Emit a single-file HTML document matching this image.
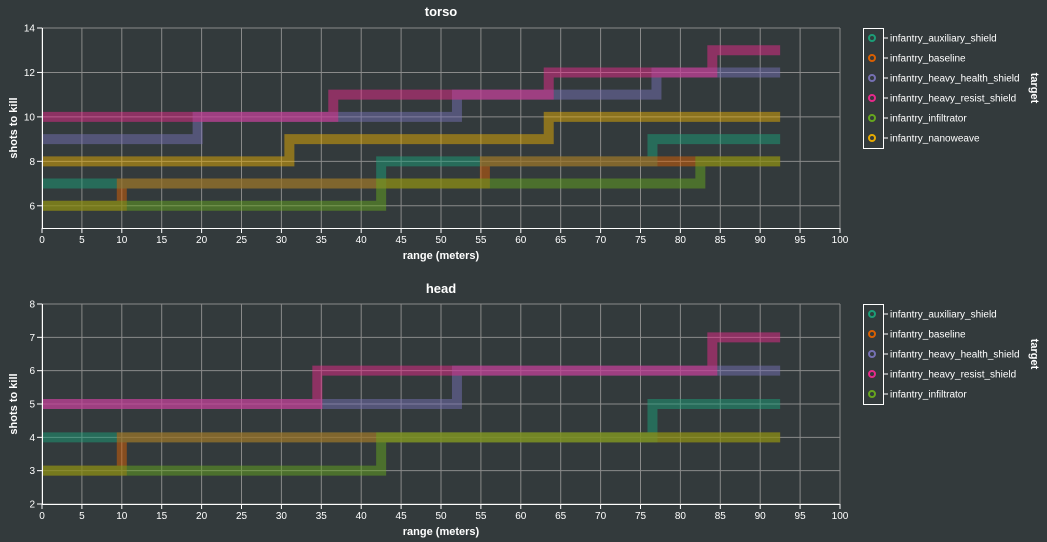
<!DOCTYPE html>
<html><head><meta charset="utf-8"><style>
html,body{margin:0;padding:0;background:#333a3c;}
svg{display:block;font-family:"Liberation Sans",sans-serif;}
</style></head><body>
<svg id="c" width="1047" height="542"></svg>
<script>
const seriesNames = ["infantry_auxiliary_shield","infantry_baseline","infantry_heavy_health_shield","infantry_heavy_resist_shield","infantry_infiltrator","infantry_nanoweave"];
const seriesColors = ["#1b9e77","#d95f02","#7570b3","#e7298a","#66a61e","#e6ab02"];
const xTicks = [0,5,10,15,20,25,30,35,40,45,50,55,60,65,70,75,80,85,90,95,100];
const torsoYTicks = [6,8,10,12,14];
const headYTicks = [2,3,4,5,6,7,8];
const rangeEnd = 92.5;
// step-after breakpoints (x) and values (y)
const torsoAuxX = [0,42.5,76.5], torsoAuxY = [7,8,9];
const torsoBaseX = [0,10,55.5,82.5], torsoBaseY = [6,7,8,8];
const torsoHealthX = [0,19.5,52,77], torsoHealthY = [9,10,11,12];
const torsoResistX = [0,36.5,63.5,84], torsoResistY = [10,11,12,13];
const torsoInfilX = [0,42.5,82.5], torsoInfilY = [6,7,8];
const torsoNanoX = [0,31,63.5], torsoNanoY = [8,9,10];
const headAuxX = [0,76.5], headAuxY = [4,5];
const headBaseX = [0,10], headBaseY = [3,4];
const headHealthX = [0,52], headHealthY = [5,6];
const headResistX = [0,34.5,84], headResistY = [5,6,7];
const headInfilX = [0,42.5], headInfilY = [3,4];

const NS="http://www.w3.org/2000/svg";
const svg=document.getElementById('c');
function mk(t,a,p){const e=document.createElementNS(NS,t);for(const k in a)e.setAttribute(k,a[k]);(p||svg).appendChild(e);return e;}
const x0=42,x1=840;
const sx=v=>x0+(x1-x0)*v/100;

function panel(name,top,yMin,yMax,yTicks,series,titleY){
  const bottom=top+200;
  const sy=v=>bottom-(v-yMin)/(yMax-yMin)*200;
  const g=mk('g',{});
  
  
  xTicks.forEach(t=>{const l=mk('line',{x1:sx(t),x2:sx(t),y1:top,y2:bottom,stroke:'#8a8a8a','stroke-width':1},g);
    });
  yTicks.forEach(t=>{const l=mk('line',{x1:x0,x2:x1,y1:sy(t),y2:sy(t),stroke:'#8a8a8a','stroke-width':1},g);
    });
  mk('line',{x1:x1,x2:x1,y1:top,y2:bottom,stroke:'#8a8a8a'},g);
  mk('line',{x1:x0,x2:x1,y1:top,y2:top,stroke:'#8a8a8a'},g);
  series.forEach(s=>{
    let d='';
    for(let i=0;i<s.x.length;i++){
      const xe=i+1<s.x.length?s.x[i+1]:rangeEnd;
      d+=(i===0?'M':'L')+sx(s.x[i])+','+sy(s.y[i])+'L'+sx(xe)+','+sy(s.y[i]);
    }
    const p=mk('path',{d:d,fill:'none',stroke:seriesColors[s.c],'stroke-width':10,'stroke-opacity':0.5,'stroke-linejoin':'miter','stroke-linecap':'butt'},g);
    
    
  });
  // axes
  const ya=mk('line',{x1:x0+0.5,x2:x0+0.5,y1:top,y2:bottom,stroke:'#fff'},g);
  
  const xa=mk('line',{x1:x0,x2:x1,y1:bottom+0.5,y2:bottom+0.5,stroke:'#fff'},g);
  
  xTicks.forEach(t=>{mk('line',{x1:sx(t),x2:sx(t),y1:bottom,y2:bottom+5,stroke:'#fff'},g);
    const tx=mk('text',{x:sx(t),y:bottom+15,'text-anchor':'middle','font-size':10,fill:'#fff'},g);tx.textContent=t;
    });
  yTicks.forEach(t=>{mk('line',{x1:x0-5,x2:x0,y1:sy(t),y2:sy(t),stroke:'#fff'},g);
    const tx=mk('text',{x:x0-7,y:sy(t)+3.5,'text-anchor':'end','font-size':10,fill:'#fff'},g);tx.textContent=t;
    });
  const xt=mk('text',{x:441,y:bottom+31,'text-anchor':'middle','font-size':11,'font-weight':'bold',fill:'#fff'},g);xt.textContent='range (meters)';
  
  const yt=mk('text',{transform:'translate(17,'+(top+100)+') rotate(-90)','text-anchor':'middle','font-size':11,'font-weight':'bold',fill:'#fff'},g);yt.textContent='shots to kill';
  
  const tt=mk('text',{x:441,y:titleY,'text-anchor':'middle','font-size':13,'font-weight':'bold',fill:'#fff'},g);tt.textContent=name;
  
  // legend
  const n=new Set(series.map(s=>s.c)).size;
  const lg=mk('g',{},g);
  
  mk('rect',{x:863.5,y:top+0.5,width:20,height:n*20,fill:'none',stroke:'#fff'},lg);
  for(let i=0;i<n;i++){
    const cy=top+10+i*20;
    const e=mk('g',{},lg);
    
    mk('circle',{cx:872,cy:cy,r:3,fill:'none',stroke:seriesColors[i],'stroke-width':2},e);
    mk('line',{x1:884,x2:888,y1:cy,y2:cy,stroke:'#fff'},e);
    const tx=mk('text',{x:890,y:cy+3.5,'font-size':10,fill:'#fff'},e);tx.textContent=seriesNames[i];
  }
  const lt=mk('text',{transform:'translate(1031,'+(top+10+(n-1)*10)+') rotate(90)','text-anchor':'middle','font-size':11,'font-weight':'bold',fill:'#fff'},lg);lt.textContent='target';
  
}
panel('torso',28,5,14,torsoYTicks,[
  {c:0,x:torsoAuxX,y:torsoAuxY},{c:1,x:torsoBaseX,y:torsoBaseY},{c:2,x:torsoHealthX,y:torsoHealthY},
  {c:3,x:torsoResistX,y:torsoResistY},{c:4,x:torsoInfilX,y:torsoInfilY},{c:5,x:torsoNanoX,y:torsoNanoY}],16);
panel('head',304,2,8,headYTicks,[
  {c:0,x:headAuxX,y:headAuxY},{c:1,x:headBaseX,y:headBaseY},{c:2,x:headHealthX,y:headHealthY},
  {c:3,x:headResistX,y:headResistY},{c:4,x:headInfilX,y:headInfilY}],293);
</script>
</body></html>
